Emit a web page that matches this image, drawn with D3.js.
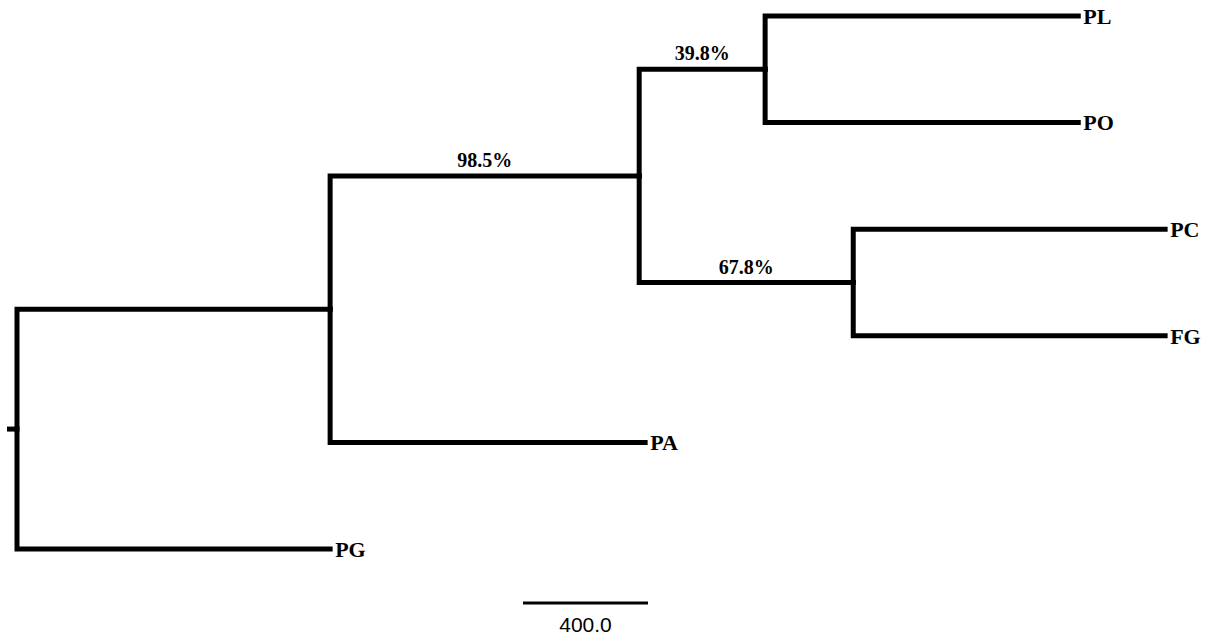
<!DOCTYPE html>
<html>
<head>
<meta charset="utf-8">
<script src="https://cdn.jsdelivr.net/npm/d3@7"></script>
<style>
  body { margin: 0; background: #fff; }
  svg { display: block; }
</style>
</head>
<body>
<div id="chart"></div>
<script>
// tree nodes, parent of each node and branch length (same order)
const nodeIds = ['root', 'A', 'B', 'C', 'D', 'PL', 'PO', 'PC', 'FG', 'PA', 'PG']
const parentIds = ['', 'root', 'A', 'B', 'B', 'C', 'C', 'D', 'D', 'A', 'root']
const branchLengths = [32, 1002, 989, 403, 685, 1002, 1002, 998, 998, 1008, 1002]
// bootstrap support written above the branch leading to a node
const supportLabels = ['', '', '98.5%', '39.8%', '67.8%', '', '', '', '', '', '']
const scaleBarLength = 400
const scaleBarLabel = '400.0'

const width = 1215
const height = 639

const rows = nodeIds.map((id, i) => ({
  id: id,
  parent: parentIds[i] || null,
  len: branchLengths[i],
  support: supportLabels[i]
}))

const root = d3.stratify()
  .id(d => d.id)
  .parentId(d => d.parent)(rows)

// cumulative distance from the left edge
root.each(d => { d.dist = (d.parent ? d.parent.dist : 0) + d.data.len })

const leaves = root.leaves()
const maxDist = 3200

const xScale = d3.scaleLinear().domain([0, maxDist]).range([7, 1007])
const yScale = d3.scalePoint()
  .domain(leaves.map(d => d.id))
  .range([16, 549])

// leaves get their row, inner nodes sit halfway between first and last child
root.eachAfter(d => {
  if (!d.children) d.y = yScale(d.id)
  else d.y = (d.children[0].y + d.children[d.children.length - 1].y) / 2
  d.x = xScale(d.dist)
})

const svg = d3.select('#chart').append('svg')
  .attr('width', width)
  .attr('height', height)

const g = svg.append('g')

// root stub
g.append('path')
  .attr('d', 'M' + xScale(0) + ',' + root.y + 'H' + root.x)
  .attr('fill', 'none')
  .attr('stroke', '#000')
  .attr('stroke-width', 5)

g.selectAll('.link')
  .data(root.links())
  .enter().append('path')
  .attr('class', 'link')
  .attr('d', l => 'M' + l.source.x + ',' + l.source.y + 'V' + l.target.y + 'H' + l.target.x)
  .attr('fill', 'none')
  .attr('stroke', '#000')
  .attr('stroke-width', 5)
  .attr('stroke-linejoin', 'miter')
  .attr('stroke-linecap', 'square')

g.selectAll('.leaf-label')
  .data(leaves)
  .enter().append('text')
  .attr('class', 'leaf-label')
  .attr('x', d => d.x + 5)
  .attr('y', d => d.y)
  .attr('dy', '0.35em')
  .style('font-family', '"Liberation Serif", "Times New Roman", serif')
  .style('font-weight', 'bold')
  .style('font-size', '22px')
  .text(d => d.id)

g.selectAll('.support')
  .data(root.descendants().filter(d => d.data.support))
  .enter().append('text')
  .attr('class', 'support')
  .attr('x', d => (d.parent.x + d.x) / 2)
  .attr('y', d => d.y - 9)
  .attr('text-anchor', 'middle')
  .style('font-family', '"Liberation Serif", "Times New Roman", serif')
  .style('font-weight', 'bold')
  .style('font-size', '20px')
  .text(d => d.data.support)

// scale bar
const barX = 523
const barW = xScale(scaleBarLength) - xScale(0)
svg.append('line')
  .attr('x1', barX)
  .attr('x2', barX + barW)
  .attr('y1', 603)
  .attr('y2', 603)
  .attr('stroke', '#000')
  .attr('stroke-width', 3)

svg.append('text')
  .attr('x', barX + barW / 2)
  .attr('y', 632)
  .attr('text-anchor', 'middle')
  .style('font-family', '"Liberation Sans", Arial, sans-serif')
  .style('font-size', '21px')
  .text(scaleBarLabel)
</script>
</body>
</html>
